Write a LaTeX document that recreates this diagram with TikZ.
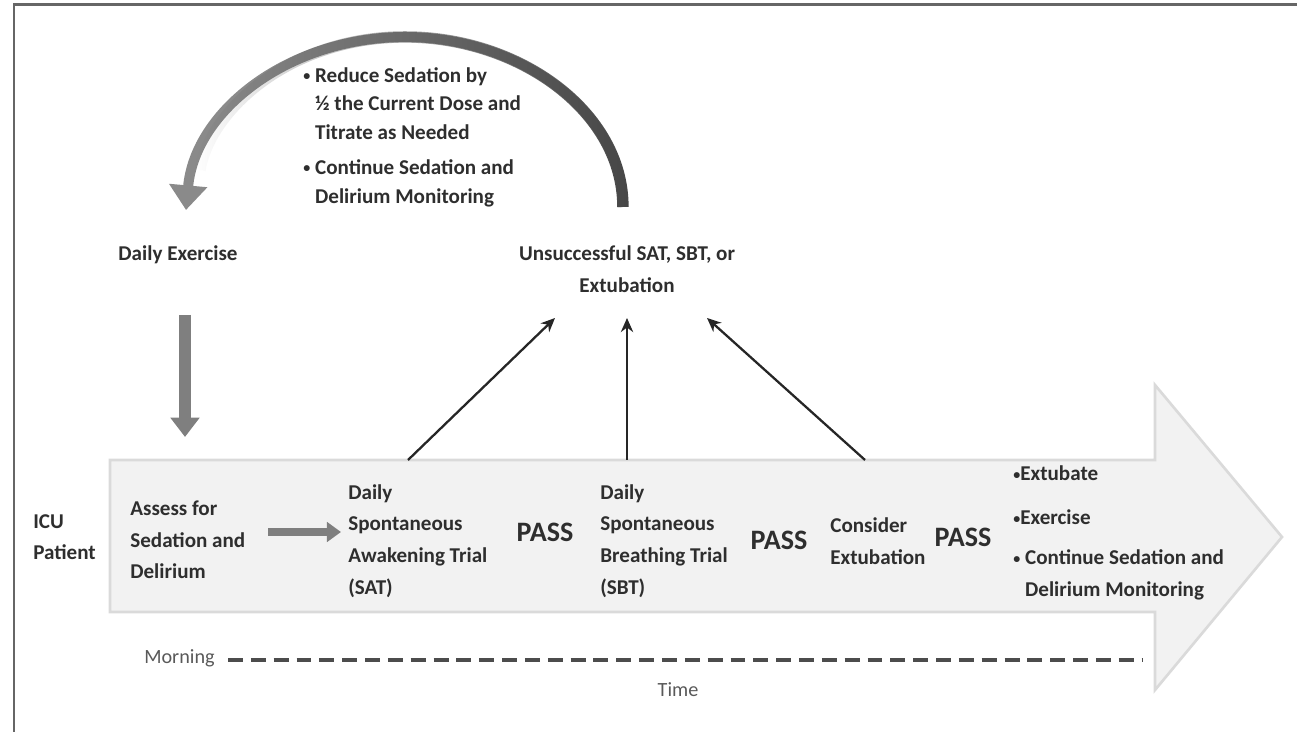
\documentclass[tikz,border=0pt]{standalone}
\usepackage{fontspec}
\setmainfont{Carlito}
\usetikzlibrary{arrows.meta,fadings}
\definecolor{txt}{HTML}{2E2E2E}
\definecolor{bodyfill}{HTML}{F2F2F2}
\definecolor{bodyline}{HTML}{DADADA}
\definecolor{arcdark}{HTML}{474747}
\definecolor{arclight}{HTML}{8A8A8A}
\definecolor{blockgray}{HTML}{7F7F7F}
\newcommand\smbul{\raisebox{0.15ex}{\footnotesize•}}
\tikzfading[name=fadeR, left color=transparent!100, right color=transparent!0]
\begin{document}
\begin{tikzpicture}[x=0.02cm,y=-0.02cm,
  lbl/.style={font=\bfseries\fontsize{12}{18}\selectfont, text=txt, inner sep=0pt, align=left},
  toplbl/.style={font=\bfseries\fontsize{12}{16.5}\selectfont, text=txt, inner sep=0pt, align=left},
  passlbl/.style={font=\bfseries\fontsize{16}{18}\selectfont, text=txt, inner sep=0pt},
  timelbl/.style={font=\fontsize{11.5}{14}\selectfont, text=black!65, inner sep=0pt},
  thinarrow/.style={draw=black!85, line width=1.3pt, -{Stealth[length=8pt,width=7pt]}},
  blockarrow/.style={draw=blockgray, line width=6.8pt, -{Triangle[width=16pt,length=11pt]}},
  rightarrow/.style={draw=blockgray, line width=5pt, -{Triangle[width=11pt,length=8pt]}},
]
\useasboundingbox (0,0) rectangle (1297,732);
% frame
\draw[black!60, line width=1.7pt] (14,732) -- (14,5) -- (1297,5);
% big timeline arrow
\draw[draw=bodyline, fill=bodyfill, line width=1.5pt]
  (110,460) -- (1155,460) -- (1155,385) -- (1282,537) -- (1155,690) -- (1155,612) -- (110,612) -- cycle;

% texts
\node[toplbl, anchor=west] (reduce) at (303,137)
  {\smbul\ Reduce Sedation by\\\hphantom{\smbul\ }½ the Current Dose and\\\hphantom{\smbul\ }Titrate as Needed\\[3pt]\smbul\ Continue Sedation and\\\hphantom{\smbul\ }Delirium Monitoring};
\node[lbl] (exercise) at (178,255) {Daily Exercise};
\node[lbl, align=center] (unsucc) at (627,269) {Unsuccessful SAT, SBT, or\\Extubation};
\node[lbl, anchor=west] (icu) at (33,537) {ICU\\Patient};
\node[lbl, anchor=west] (assess) at (130,540) {Assess for\\Sedation and\\Delirium};
\node[lbl, anchor=west] (sat) at (348,541) {Daily\\Spontaneous\\Awakening Trial\\(SAT)};
\node[passlbl] (p1) at (545,532) {PASS};
\node[lbl, anchor=west] (sbt) at (600,541) {Daily\\Spontaneous\\Breathing Trial\\(SBT)};
\node[passlbl] (p2) at (779,540) {PASS};
\node[lbl, anchor=west] (ext) at (830,541) {Consider\\Extubation};
\node[passlbl] (p3) at (963,537) {PASS};
\node[lbl, anchor=west] (final) at (1013,533)
  {\smbul Extubate\\[7pt]\smbul Exercise\\[5pt]\smbul\ Continue Sedation and\\\hphantom{\smbul\ }Delirium Monitoring};
\node[timelbl, anchor=east] (morning) at (215,658) {Morning};
\node[timelbl] (time) at (678,690) {Time};

% coordinates for connector ends
\coordinate (c1) at (408,460);
\coordinate (c2) at (627,460);
\coordinate (c3) at (865,460);
\coordinate (u1) at (555,318);
\coordinate (u2) at (627,318);
\coordinate (u3) at (707,318);
\coordinate (arcR) at (623,207);
\coordinate (arcT) at (405,37);
\coordinate (arcL) at (186,210);
\coordinate (dA) at (185,315);
\coordinate (dB) at (185,437);
\coordinate (rA) at (268,532);
\coordinate (rB) at (341,532);
\coordinate (dashA) at (228,660);
\coordinate (dashB) at (1143,660);

% thin arrows
\draw[thinarrow] (c1) -- (u1);
\draw[thinarrow] (c2) -- (u2);
\draw[thinarrow] (c3) -- (u3);

% curved arrow (light base, dark overlay fading in towards the right)
\draw[arclight, line width=5.7pt, -{Triangle[width=21pt,length=14pt]}]
  (arcR) .. controls (623,112) and (520,37) .. (arcT)
  .. controls (290,37) and (195,110) .. (arcL);
\draw[arcdark, line width=6.5pt, path fading=fadeR]
  (arcR) .. controls (623,112) and (520,37) .. (arcT)
  .. controls (290,37) and (210,110) .. (200,170);

% block arrows
\draw[blockarrow] (dA) -- (dB);
\draw[rightarrow] (rA) -- (rB);

% dashed time line
\draw[black!70, line width=2.8pt, dash pattern=on 8.5pt off 4.5pt] (dashA) -- (dashB);
\end{tikzpicture}
\end{document}
